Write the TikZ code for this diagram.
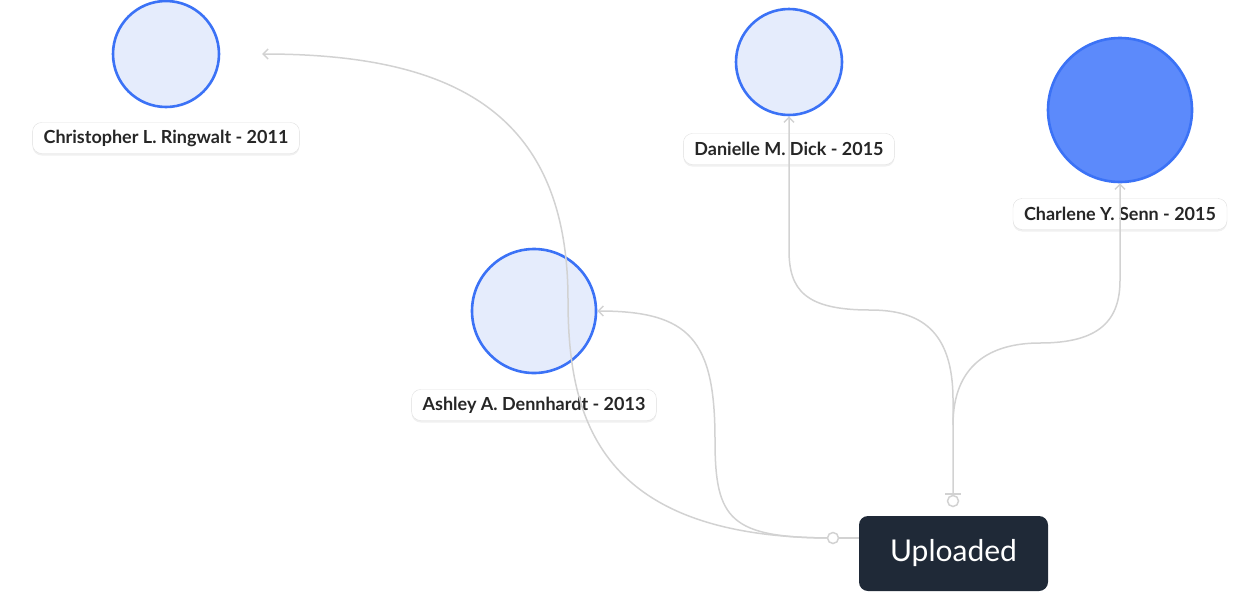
\documentclass[tikz,border=0pt]{standalone}
\usepackage{fontspec}
\setmainfont{Lato}
\usetikzlibrary{arrows.meta,shadows}
\definecolor{ringblue}{HTML}{3B72F6}
\definecolor{palefill}{HTML}{E5ECFC}
\definecolor{deepfill}{HTML}{5C8AFB}
\definecolor{linkgray}{HTML}{D2D2D2}
\definecolor{navybox}{HTML}{1F2937}
\begin{document}
\begin{tikzpicture}[x=1pt,y=-1pt,
  person/.style={shape=circle,draw=ringblue,line width=2.6pt,fill=palefill,inner sep=0pt},
  personM/.style={person,fill=deepfill},
  tag/.style={draw=black!12,fill=white,rounded corners=9pt,minimum height=31pt,inner xsep=11pt,
    font=\bfseries\fontsize{18}{20}\selectfont,text=black!85,drop shadow={opacity=0.12,shadow xshift=0pt,shadow yshift=-2pt}},
  link/.style={draw=linkgray,line width=1.5pt},
  barb/.style={link,-{Straight Barb[length=5pt,width=10pt]}},
  status/.style={fill=navybox,rounded corners=9pt,text=white,minimum width=189pt,minimum height=75pt,
    font=\fontsize{30}{34}\selectfont}]
\useasboundingbox (0,0) rectangle (1257,592);

% people
\node[person,minimum size=106pt] (R) at (166,54) {};
\node[tag] (Rt) at (166,138) {Christopher L. Ringwalt - 2011};
\node[person,minimum size=106pt] (D) at (789,62) {};
\node[tag] (Dt) at (789,149) {Danielle M. Dick - 2015};
\node[personM,minimum size=144pt] (S) at (1120,110) {};
\node[tag] (St) at (1120,214) {Charlene Y. Senn - 2015};
\node[person,minimum size=124pt] (A) at (534,311) {};
\node[tag] (At) at (534,405) {Ashley A. Dennhardt - 2013};

\node[status] (U) at (953.5,553.5) {Uploaded};
\coordinate (Ul) at (833,538);
\coordinate (Ut) at (953,495);
\coordinate (Rh) at (262,54);

% links
\draw[link] (U.west |- Ul) -- (Ul);
\draw[barb] (Ul) .. controls (600,538) and (568,420) .. (568,300)
  .. controls (568,110) and (450,54) .. (Rh);
\draw[barb] (Ul) .. controls (730,538) and (715,520) .. (715,440)
  .. controls (715,340) and (690,311) .. (A.east);
\draw[barb] (Ut) -- (953,400) .. controls (953,330) and (920,310) .. (870,310)
  .. controls (805,310) and (789,290) .. (789,250) -- (D.south);
\draw[barb] (953,425) .. controls (953,365) and (990,343) .. (1040,343)
  .. controls (1100,343) and (1120,320) .. (1120,280) -- (S.south);
\draw[link,fill=white] (Ul) circle (5.5);
\draw[link,fill=white] (953,501) circle (5.5);
\draw[link] (945,494) -- (961,494);
\end{tikzpicture}
\end{document}
